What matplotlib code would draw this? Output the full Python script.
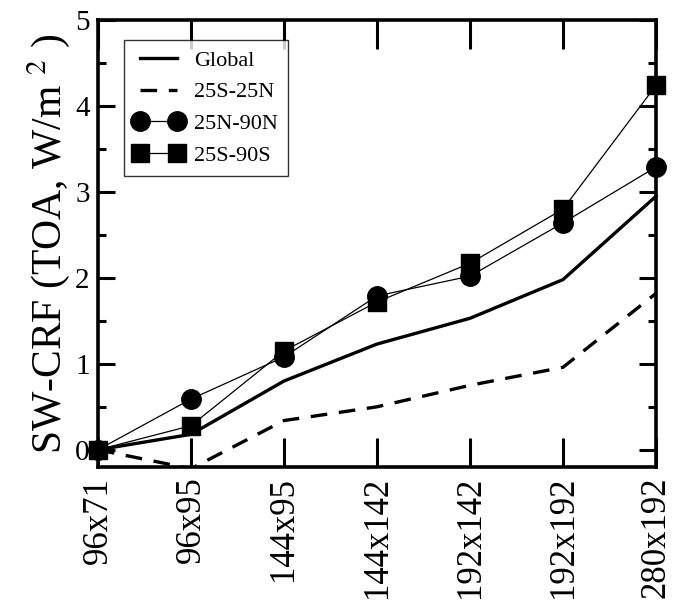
import matplotlib
matplotlib.use("Agg")
import matplotlib.pyplot as plt
from matplotlib.ticker import MultipleLocator

categories = ["96x71", "96x95", "144x95", "144x142", "192x142", "192x192", "280x192"]
global_vals = [0.0, 0.18, 0.80, 1.23, 1.53, 1.98, 2.95]
tropics_vals = [0.0, -0.22, 0.34, 0.50, 0.75, 0.96, 1.82]
north_vals = [0.0, 0.59, 1.08, 1.79, 2.02, 2.64, 3.29]
south_vals = [0.0, 0.28, 1.15, 1.72, 2.17, 2.80, 4.24]

plt.rcParams["font.family"] = ["Liberation Serif", "DejaVu Serif"]
plt.rcParams["mathtext.fontset"] = "stix"

fig = plt.figure(figsize=(6.78, 6.06), dpi=100)
ax = fig.add_axes([0.1445, 0.2294, 0.8231, 0.7376])

x = list(range(len(categories)))
ax.plot(x, global_vals, color="black", lw=2.4, label="Global", clip_on=False, zorder=3)
ax.plot(x, tropics_vals, color="black", lw=2.4, dashes=(5, 3.5), label="25S-25N", zorder=3)
ax.plot(x, north_vals, color="black", lw=0.9, marker="o", markersize=14,
        label="25N-90N", clip_on=False, zorder=4)
ax.plot(x, south_vals, color="black", lw=0.9, marker="s", markersize=13,
        label="25S-90S", clip_on=False, zorder=4)

ax.set_xlim(0, 6)
ax.set_ylim(-0.2, 5)
ax.set_xticks(x)
ax.set_xticklabels(categories, rotation=90, fontsize=25)
ax.yaxis.set_major_locator(MultipleLocator(1))
ax.yaxis.set_minor_locator(MultipleLocator(0.5))
ax.tick_params(axis="y", which="major", direction="in", length=12, width=2.2,
               labelsize=21, right=True, pad=6)
ax.tick_params(axis="y", which="minor", direction="in", length=6, width=2.2, right=True)
ax.tick_params(axis="x", which="major", direction="in", length=21, width=2.2,
               top=True, pad=7)
for s in ax.spines.values():
    s.set_linewidth(2.6)

ax.set_ylabel(r"SW-CRF (TOA, W/m $^{2}$ )", fontsize=30, labelpad=2)

leg = ax.legend(loc="upper left", bbox_to_anchor=(0.046, 0.955), fontsize=16,
                frameon=True, fancybox=False, edgecolor="black", handlelength=2.25,
                numpoints=2, labelspacing=0.5, borderpad=0.45, handletextpad=0.45,
                borderaxespad=0)
leg.get_frame().set_linewidth(1.0)

fig.savefig("out.png", dpi=100)
